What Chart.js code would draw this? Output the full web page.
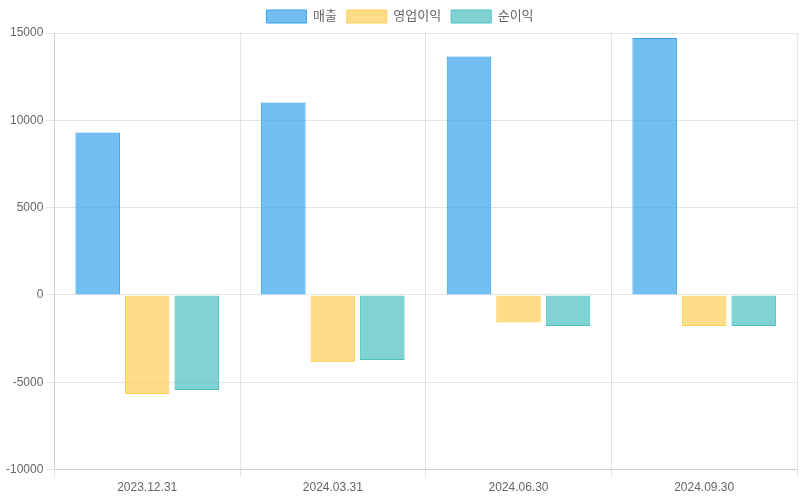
<!DOCTYPE html>
<html>
<head>
<meta charset="utf-8">
<script src="https://cdn.jsdelivr.net/npm/chart.js@4"></script>
<style>
html,body{margin:0;padding:0;background:#fff;}
#wrap{width:800px;height:500px;position:relative;}
</style>
</head>
<body>
<div id="wrap"><canvas id="c"></canvas></div>
<script>
const categories = ['2023.12.31', '2024.03.31', '2024.06.30', '2024.09.30'];
const seriesNames = ['매출', '영업이익', '순이익'];
const sales = [9300, 11020, 13650, 14710];
const operatingProfit = [-5670, -3860, -1575, -1775];
const netProfit = [-5440, -3720, -1775, -1775];
const yTicks = [-10000, -5000, 0, 5000, 10000, 15000];

Chart.defaults.font.family = '"Liberation Sans", Arial, "Noto Sans CJK KR", sans-serif';
Chart.defaults.color = '#666';

new Chart(document.getElementById('c'), {
  type: 'bar',
  data: {
    labels: categories,
    datasets: [
      {label: seriesNames[0], data: sales, backgroundColor: 'rgba(54,162,235,0.7)', borderColor: 'rgba(54,162,235,1)', borderWidth: 1},
      {label: seriesNames[1], data: operatingProfit, backgroundColor: 'rgba(255,205,86,0.7)', borderColor: 'rgba(255,205,86,1)', borderWidth: 1},
      {label: seriesNames[2], data: netProfit, backgroundColor: 'rgba(75,192,192,0.7)', borderColor: 'rgba(75,192,192,1)', borderWidth: 1}
    ]
  },
  options: {
    responsive: true,
    maintainAspectRatio: false,
    animation: false,
    layout: {padding: {left: 3, right: 3, bottom: 2}},
    plugins: {
      legend: {position: 'top', labels: {font: {size: 13}}},
      tooltip: {enabled: false}
    },
    scales: {
      y: {
        min: yTicks[0], max: yTicks[yTicks.length - 1],
        ticks: {stepSize: 5000, callback: v => String(v)}
      },
      x: {}
    }
  }
});
</script>
</body>
</html>
